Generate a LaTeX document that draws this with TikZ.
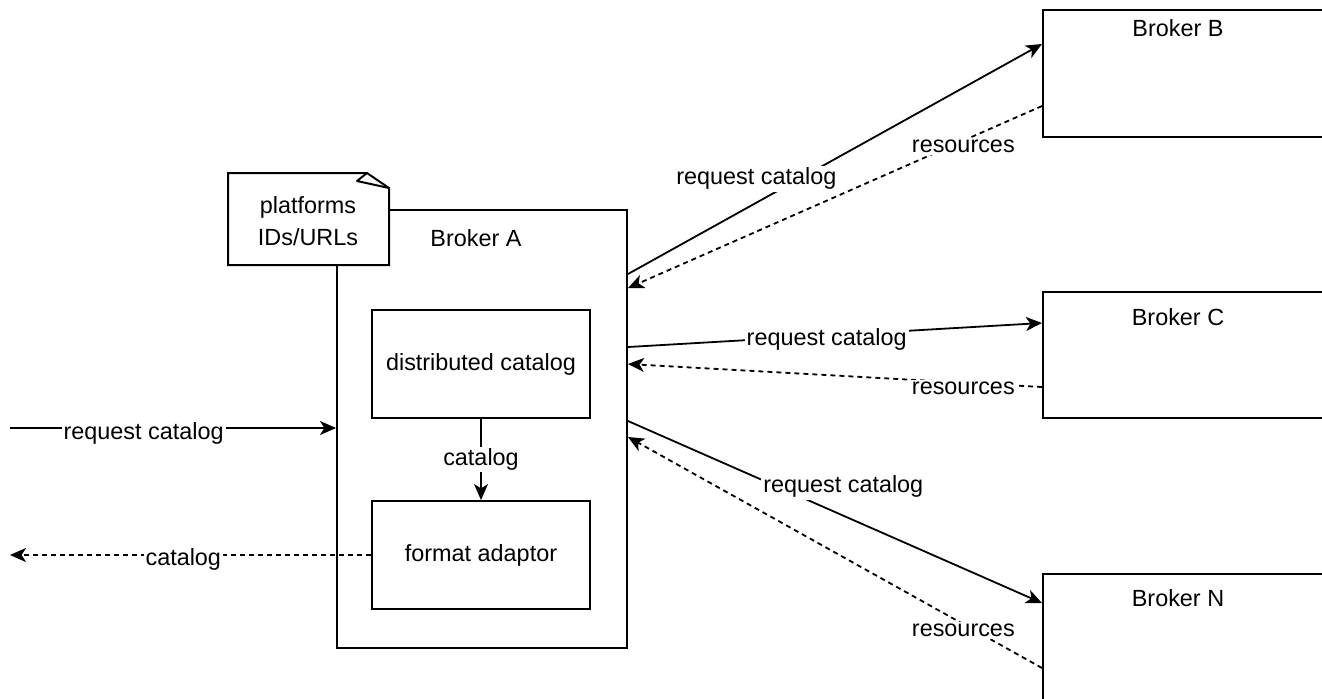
\documentclass[tikz,border=0pt]{standalone}
\usepackage{fontspec}
\setmainfont{Liberation Sans}
\usetikzlibrary{arrows.meta,fit,calc}
\begin{document}
\begin{tikzpicture}[x=0.5pt,y=-0.5pt,
  font=\fontsize{11.7}{16}\selectfont,
  box/.style={draw, line width=1pt, fill=white, inner sep=0pt},
  inner/.style={box, minimum width=109pt, minimum height=54pt},
  txt/.style={inner sep=0pt, align=center},
  lbl/.style={fill=white, inner sep=1pt},
  arr/.style={line width=0.9pt, -{Stealth[length=8pt,width=7pt,inset=2.2pt]}},
  back/.style={arr, dash pattern=on 2.5pt off 2pt}]
\clip (0,0) rectangle (1322,698);

% main broker with its two inner components
\node[box, fit={(337,210) (627,648)}] (A) {};
\node[txt] (Alab) at (476,238) {Broker A};
\node[inner] (dist) at (481,364) {distributed catalog};
\node[inner] (fmt)  at (481,555) {format adaptor};

% note with the platform list, folded corner at top right
\draw[line width=1pt, fill=white]
  (228,173) -- (367,173) -- (389,188) -- (389,265) -- (228,265) -- cycle;
\draw[line width=1pt, line join=round] (367,173) -- (357,181) -- (389,188);
\node[txt] (note) at (308,221) {platforms\\IDs/URLs};

% remote brokers
\node[box, fit={(1043,10) (1400,137)}]  (B) {};
\node[txt] (Blab) at (1178,28) {Broker B};
\node[box, fit={(1043,292) (1400,418)}] (C) {};
\node[txt] (Clab) at (1178,317) {Broker C};
\node[box, fit={(1043,574) (1400,760)}] (N) {};
\node[txt] (Nlab) at (1178,598) {Broker N};

% client side
\coordinate (inL)  at (10,428);
\coordinate (outL) at (10,555);
\draw[arr] (inL) -- (A.west |- 0,428) node[lbl, pos=0.41, yshift=-2.5pt] {request catalog};
\draw[back] (fmt.west) -- (outL) node[lbl, pos=0.52, yshift=-2pt] {catalog};
\draw[arr] (dist.south) -- (fmt.north) node[lbl, pos=0.5] {catalog};

% Broker B
\draw[arr] (A.east |- 0,274) -- (B.west |- 0,44)
  node[lbl, pos=0.31, yshift=12pt] {request catalog};
\draw[back] (B.west |- 0,106) -- (A.east |- 0,288)
  node[lbl, pos=0.19, yshift=-3pt] {resources};

% Broker C
\draw[arr] (A.east |- 0,347) -- (C.west |- 0,323)
  node[lbl, pos=0.48, yshift=-2pt] {request catalog};
\draw[back] (C.west |- 0,387) -- (A.east |- 0,364)
  node[lbl, pos=0.19, yshift=-3pt] {resources};

% Broker N
\draw[arr] (A.east |- 0,421) -- (N.west |- 0,603)
  node[lbl, pos=0.52, yshift=14.5pt] {request catalog};
\draw[back] (N.west |- 0,668) -- (A.east |- 0,437)
  node[lbl, pos=0.19, yshift=-3pt] {resources};
\end{tikzpicture}
\end{document}
